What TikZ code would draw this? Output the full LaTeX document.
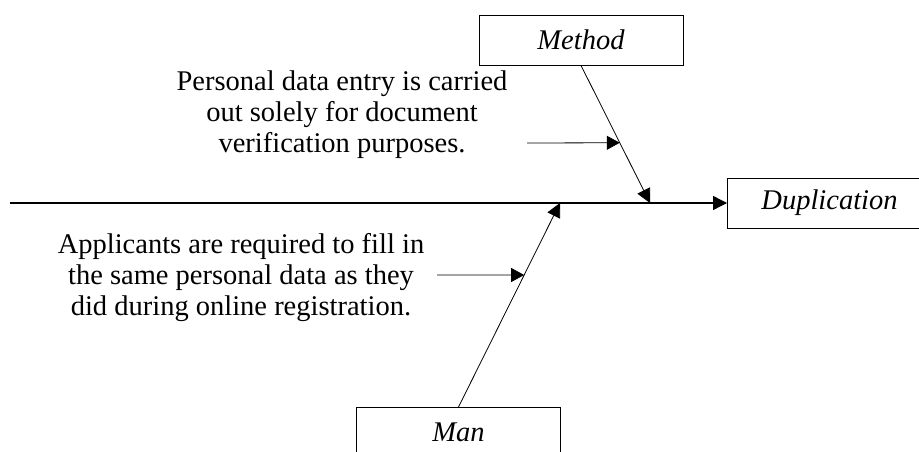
\documentclass[tikz,border=0pt]{standalone}
\usepackage{fontspec}
\setmainfont{Liberation Serif}
\usetikzlibrary{arrows.meta}
\tikzset{
  labelbox/.style={draw, line width=0.9pt, minimum width=204pt, minimum height=50pt,
    inner sep=0pt, font=\fontsize{28.5}{31}\selectfont\itshape},
  cause/.style={align=center, inner sep=0pt, font=\fontsize{28.5}{31}\selectfont},
  spine/.style={line width=1.1pt, -{Triangle[length=14pt,width=14pt]}},
  bone/.style={line width=0.8pt, -{Triangle[length=14pt,width=14pt]}},
  pointer/.style={line width=0.8pt, -{Triangle[length=13pt,width=14pt]}}
}
\begin{document}
\begin{tikzpicture}[x=1pt,y=-1pt]
\useasboundingbox (0,0) rectangle (919,452);
% category and effect boxes
\node[labelbox] (method) at (581,40) {Method};
\node[labelbox] (dup) at (829.5,203) {Duplication};
\node[labelbox, anchor=north] (man) at (458.5,407) {Man};
% spine and bones
\coordinate (tail) at (10,203);
\coordinate (mjoin) at (650,203);
\coordinate (njoin) at (560,203);
\draw[spine] (tail) -- (dup.west);
\draw[bone] (method.south) -- (mjoin);
\draw[bone] (man.north) -- (njoin);
\path (method.south) -- (mjoin) coordinate[pos=0.562] (mhit);
\path (man.north) -- (njoin) coordinate[pos=0.647] (nhit);
% causes
\node[cause] (c1) at (342,115) {Personal data entry is carried\\out solely for document\\verification purposes.};
\node[cause] (c2) at (241,278) {Applicants are required to fill in\\the same personal data as they\\did during online registration.};
\coordinate (c1start) at (527,143);
\coordinate (c2start) at (437,275);
\draw[pointer] (c1start) -- (mhit);
\draw[pointer] (c2start) -- (nhit);
\end{tikzpicture}
\end{document}
